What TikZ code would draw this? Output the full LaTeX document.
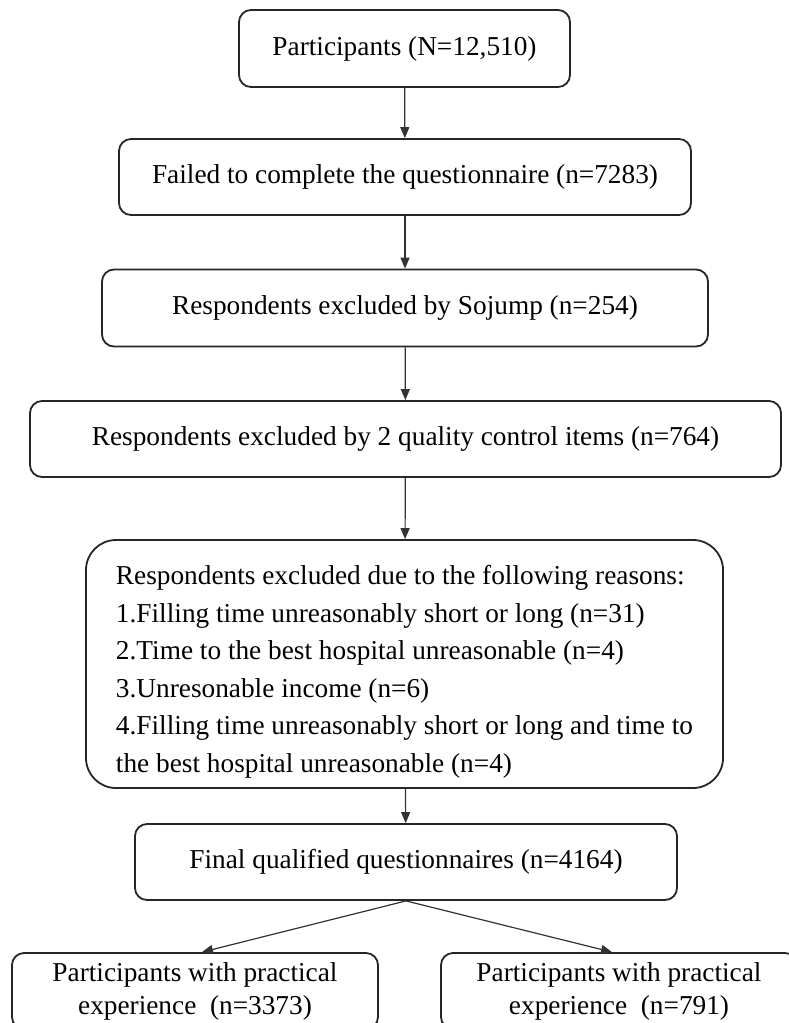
\documentclass[tikz,border=0pt]{standalone}
\usepackage{fontspec}
\setmainfont{Liberation Serif}
\usetikzlibrary{arrows.meta}
\tikzset{
  box/.style={draw=black!85, line width=1.8pt, rounded corners=12pt, fill=white,
    align=center, inner sep=0pt, font=\fontsize{27.3}{33}\selectfont, text=black},
  bigbox/.style={box, rounded corners=30pt, align=left, font=\fontsize{27.3}{37.5}\selectfont},
  arr/.style={draw=black!80, line width=1.2pt, -{Triangle[length=11pt,width=9pt]}}
}
\begin{document}
\begin{tikzpicture}[x=1pt,y=-1pt]
\useasboundingbox[fill=white] (0,0) rectangle (789,1023);
\clip (0,0) rectangle (789,1023);
\node[box, minimum width=331pt, minimum height=77pt] (b1) at (404.5,48.5) {Participants (N=12,510)};
\node[box, minimum width=572pt, minimum height=76pt] (b2) at (405,177) {Failed to complete the questionnaire (n=7283)};
\node[box, minimum width=606pt, minimum height=77pt] (b3) at (405,308) {Respondents excluded by Sojump (n=254)};
\node[box, minimum width=751pt, minimum height=76pt] (b4) at (405.5,439) {Respondents excluded by 2 quality control items (n=764)};
\node[bigbox, minimum width=637pt, minimum height=248pt] (b5) at (404.5,664) {\rule{0pt}{35pt}Respondents excluded due to the following reasons:\\
1.Filling time unreasonably short or long (n=31)\\
2.Time to the best hospital unreasonable (n=4)\\
3.Unresonable income (n=6)\\
4.Filling time unreasonably short or long and time to\\
the best hospital unreasonable (n=4)};
\node[box, minimum width=542pt, minimum height=76pt] (b6) at (406,862) {Final qualified questionnaires (n=4164)};
\node[box, minimum width=366pt, minimum height=76pt] (b7) at (195,991) {Participants with practical\\experience~~(n=3373)};
\node[box, minimum width=356pt, minimum height=76pt] (b8) at (619,991) {Participants with practical\\experience~~(n=791)};
\draw[arr] (b1) -- (b2);
\draw[arr] (b2) -- (b3);
\draw[arr] (b3) -- (b4);
\draw[arr] (b4) -- (b5);
\draw[arr] (b5) -- (b6);
\draw[arr] (b6.south) -- ([xshift=7pt]b7.north);
\draw[arr] (b6.south) -- ([xshift=-7pt]b8.north);
\end{tikzpicture}
\end{document}
